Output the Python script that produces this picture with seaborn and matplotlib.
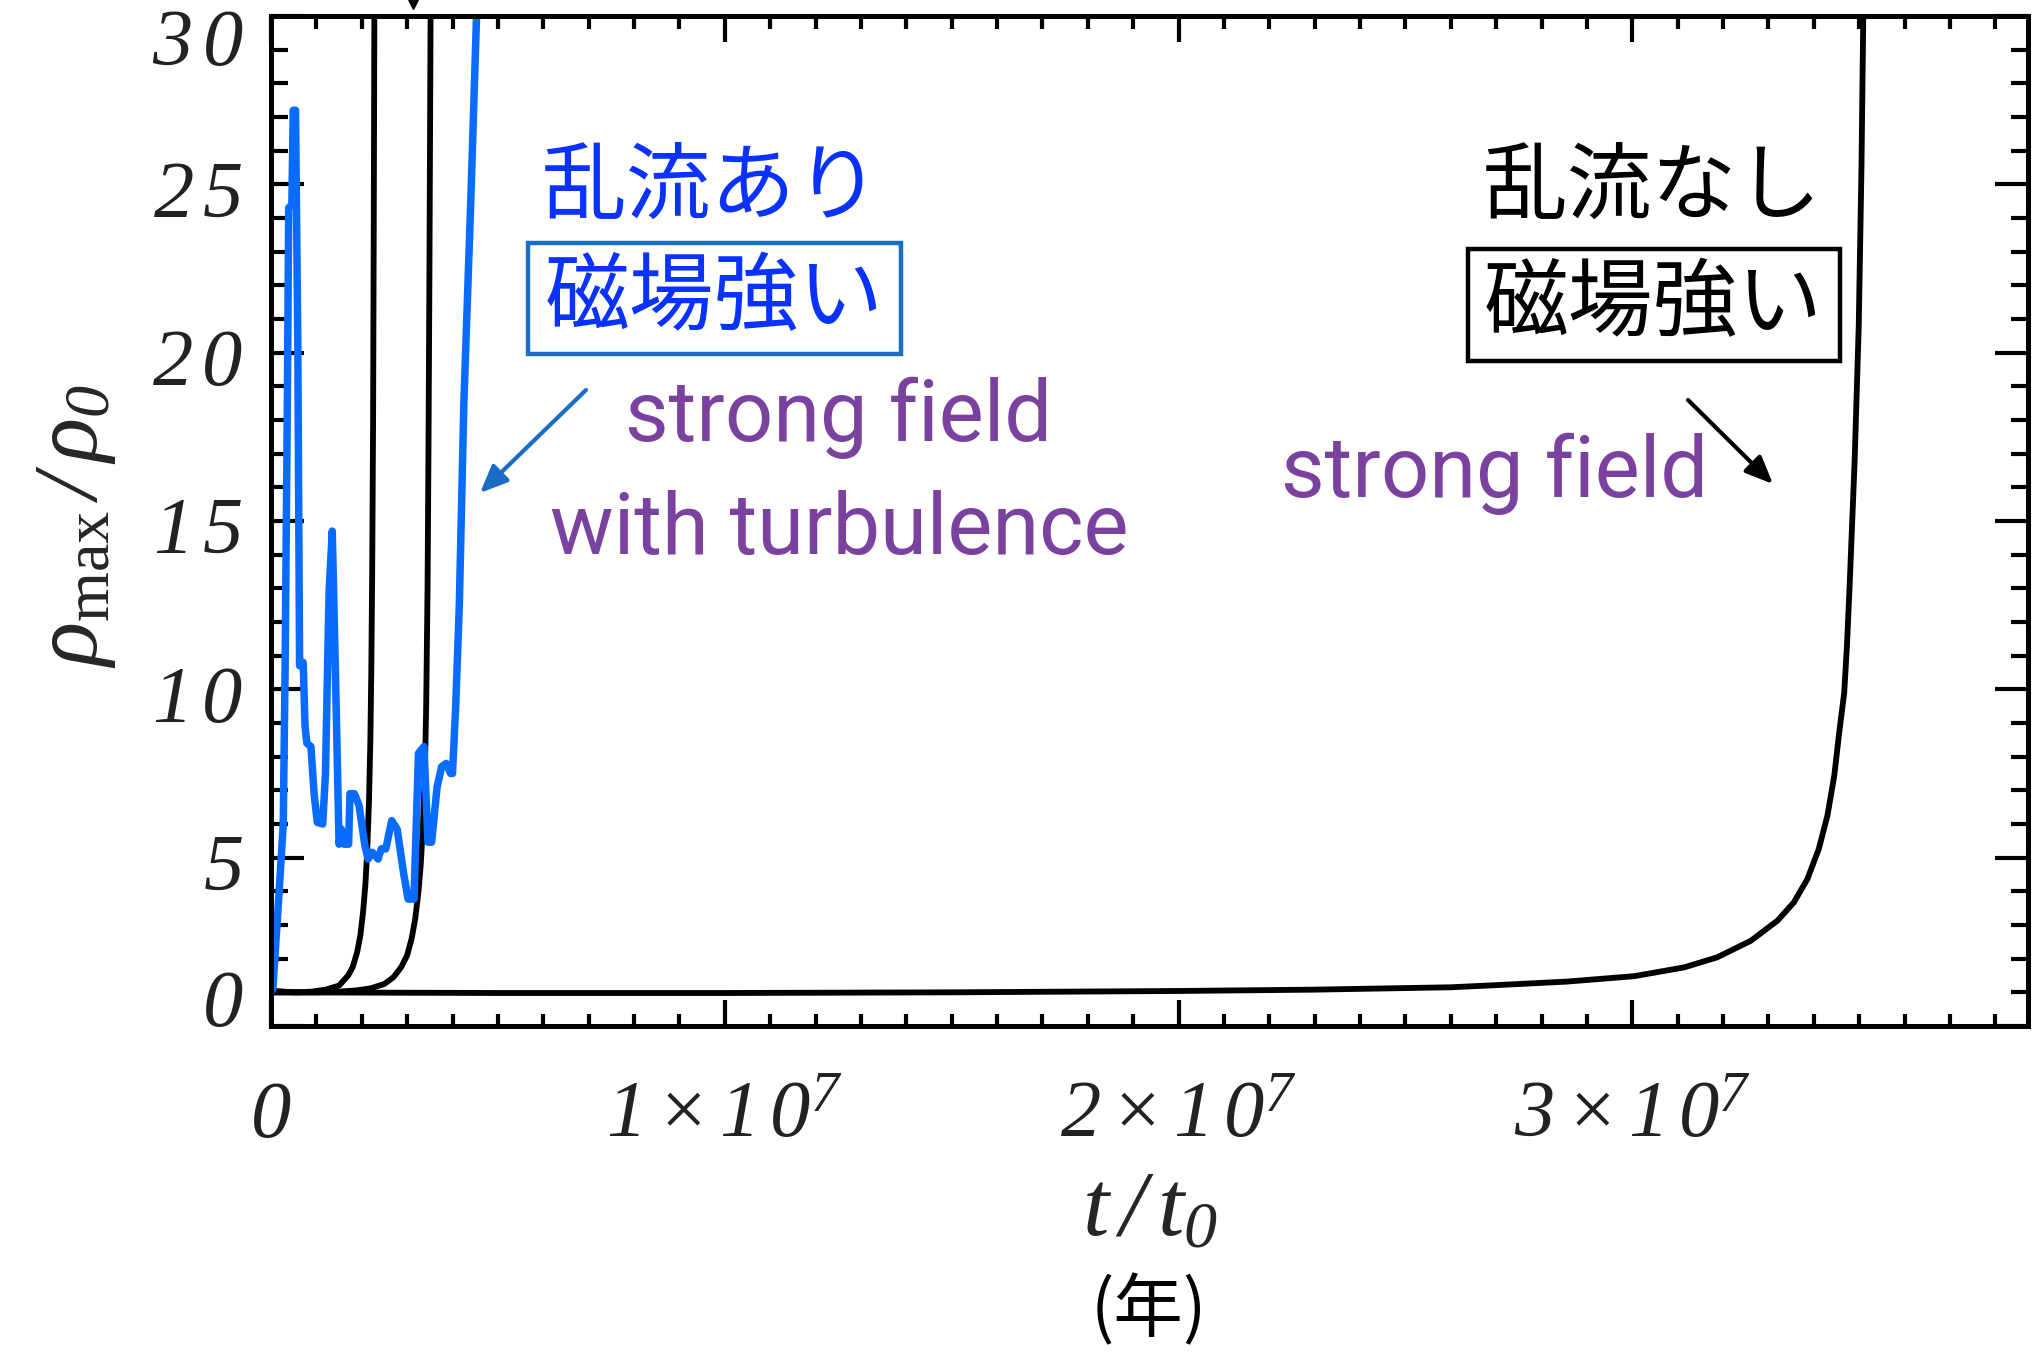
import numpy as np
import pandas as pd
import matplotlib
matplotlib.use("Agg")
import matplotlib.pyplot as plt
from matplotlib.patches import Rectangle
from matplotlib.lines import Line2D
from matplotlib.ticker import MultipleLocator
from matplotlib.transforms import ScaledTranslation
import seaborn as sns

# ---------------- data ----------------
# black curve 1 (no turbulence, fastest collapse); t in units of 1e6
t_black1 = [0.0, 0.05, 0.3, 0.6, 0.9, 1.2, 1.5, 1.7, 1.8, 1.9, 1.97, 2.03, 2.08,
            2.12, 2.16, 2.19, 2.21, 2.23, 2.25, 2.265, 2.28]
r_black1 = [1.1, 1.0, 1.0, 1.0, 1.02, 1.08, 1.2, 1.5, 1.75, 2.2, 2.7, 3.4, 4.2,
            5.2, 6.7, 8.5, 10.5, 13.5, 18.0, 24.0, 31.0]

# black curve 2; t in units of 1e6
t_black2 = [0.0, 0.5, 1.0, 1.5, 1.9, 2.2, 2.5, 2.7, 2.87, 3.0, 3.1, 3.18, 3.25,
            3.3, 3.35, 3.39, 3.42, 3.45, 3.47, 3.49, 3.51, 3.52]
r_black2 = [1.05, 1.0, 1.0, 1.02, 1.06, 1.12, 1.25, 1.45, 1.75, 2.1, 2.6, 3.2, 4.0,
            4.8, 6.0, 7.5, 9.5, 13.0, 17.0, 22.0, 28.0, 31.0]

# black curve 3 (strong field, no turbulence); t in units of 1e7
t_black3 = [0.0, 0.5, 1.0, 1.5, 2.0, 2.3, 2.6, 2.71, 2.857, 3.004, 3.114, 3.187,
            3.261, 3.32, 3.356, 3.386, 3.411, 3.43, 3.445, 3.456, 3.467, 3.473,
            3.479, 3.49, 3.499, 3.505, 3.509, 3.512]
r_black3 = [1.0, 0.98, 0.98, 1.0, 1.04, 1.08, 1.15, 1.22, 1.32, 1.48, 1.74, 2.04,
            2.53, 3.13, 3.67, 4.37, 5.26, 6.25, 7.43, 8.72, 9.9, 11.3,
            13.1, 16.8, 20.8, 25.5, 30.0, 31.0]

# blue curve (strong field with turbulence); t in units of 1e6
t_blue = [0.0, 0.04, 0.17, 0.27, 0.31, 0.36, 0.39, 0.46, 0.49, 0.54, 0.59, 0.63,
          0.71, 0.75, 0.79, 0.88, 0.95, 1.02, 1.14, 1.2, 1.28, 1.35, 1.42, 1.5,
          1.55, 1.61, 1.71, 1.74, 1.84, 1.94, 2.07, 2.14, 2.23, 2.36, 2.43, 2.53,
          2.66, 2.78, 2.92, 3.02, 3.15, 3.25, 3.37, 3.46, 3.54, 3.66, 3.76, 3.86,
          3.96, 4.0, 4.07, 4.15, 4.25, 4.4, 4.53, 4.56]
r_blue = [1.0, 1.1, 3.8, 6.0, 10.5, 18.5, 24.3, 24.4, 27.2, 27.2, 20.4, 10.7,
          10.8, 8.9, 8.4, 8.3, 6.9, 6.05, 6.0, 7.5, 12.9, 14.7, 10.5, 5.4,
          5.85, 5.4, 5.4, 6.9, 6.9, 6.55, 5.35, 4.96, 5.16, 4.96, 5.26, 5.26,
          6.1, 5.85, 4.56, 3.77, 3.77, 8.1, 8.3, 5.46, 5.46, 7.1, 7.7, 7.8,
          7.5, 7.5, 9.5, 12.5, 18.5, 24.4, 30.0, 31.0]

xtick_values = [0, 1e7, 2e7, 3e7]
xtick_labels = [r'$0$', r'$1\,{\times}\,1\,0^{7}$', r'$2\,{\times}\,1\,0^{7}$',
                r'$3\,{\times}\,1\,0^{7}$']
ytick_values = [0, 5, 10, 15, 20, 25, 30]
ytick_labels = [r'$0$', r'$5$', r'$1\,0$', r'$1\,5$', r'$2\,0$', r'$2\,5$', r'$3\,0$']

# ---------------- style ----------------
sns.set_theme(style="ticks")
plt.rcParams['font.family'] = ['Noto Sans CJK JP', 'DejaVu Sans']
plt.rcParams['mathtext.fontset'] = 'custom'
plt.rcParams['mathtext.rm'] = 'Liberation Serif:italic'
plt.rcParams['mathtext.it'] = 'Liberation Serif:italic'
plt.rcParams['mathtext.sf'] = 'Liberation Serif'
plt.rcParams['mathtext.bf'] = 'Liberation Serif:bold'

W, H = 2036, 1352
fig = plt.figure(figsize=(W / 100, H / 100), dpi=100)
fig.patch.set_facecolor('white')
ax = fig.add_axes([271 / W, 1 - 1026 / H, (2028 - 271) / W, (1026 - 16) / H])
ax.set_facecolor('white')

def fx(x):
    return x / W

def fy(y):
    return 1 - y / H

BLUE = '#0a6cff'

df1 = pd.DataFrame({'t': np.array(t_black1) * 1e6, 'r': r_black1})
df2 = pd.DataFrame({'t': np.array(t_black2) * 1e6, 'r': r_black2})
df3 = pd.DataFrame({'t': np.array(t_black3) * 1e7, 'r': r_black3})
dfb = pd.DataFrame({'t': np.array(t_blue) * 1e6, 'r': r_blue})

for d in (df1, df2, df3):
    sns.lineplot(data=d, x='t', y='r', ax=ax, color='black', linewidth=4.2,
                 estimator=None, sort=False, legend=False)
sns.lineplot(data=dfb, x='t', y='r', ax=ax, color=BLUE, linewidth=5.4,
             estimator=None, sort=False, legend=False)

ax.set_xlim(0, 3.872e7)
ax.set_ylim(0, 30)

for s in ax.spines.values():
    s.set_linewidth(3.6)
    s.set_color('black')
    s.set_visible(True)

ax.set_xticks(xtick_values)
ax.set_xticklabels(xtick_labels)
ax.set_yticks(ytick_values)
ax.set_yticklabels(ytick_labels)
ax.xaxis.set_minor_locator(MultipleLocator(1e6))
ax.yaxis.set_minor_locator(MultipleLocator(1))
ax.tick_params(axis='x', which='major', direction='in', length=19, width=3,
               top=True, bottom=True, labelsize=58, pad=80, color='black')
ax.tick_params(axis='x', which='minor', direction='in', length=9, width=3,
               top=True, bottom=True, color='black')
ax.tick_params(axis='y', which='major', direction='in', length=24, width=3,
               left=True, right=True, labelsize=58, pad=20, color='black')
ax.tick_params(axis='y', which='minor', direction='in', length=12, width=3,
               left=True, right=True, color='black')
for lab in ax.get_xticklabels():
    lab.set_color('#222222')
    lab.set_va('baseline')
ylabs = ax.get_yticklabels()
for lab in ylabs:
    lab.set_color('#222222')
# IDL keeps the end labels inside the frame
ylabs[0].set_transform(ylabs[0].get_transform() + ScaledTranslation(0, 0.32, fig.dpi_scale_trans))
ylabs[-1].set_transform(ylabs[-1].get_transform() + ScaledTranslation(0, -0.17, fig.dpi_scale_trans))

ax.set_xlabel(r'$t\,/\,t_{0}$', fontsize=68, va='center', ha='center')
ax.xaxis.set_label_coords(0.5, (1026 - 1208) / 1010)
ax.set_ylabel(r'$\rho_{\mathsf{max}}\,/\,\rho_{0}$', fontsize=66, va='center', ha='center')
ax.yaxis.set_label_coords((71 - 271) / 1757, 0.495)

fig.text(fx(1149), fy(1311), '(年)', fontsize=50, ha='center', va='center', color='black')

# ---------------- annotations ----------------
TEXT_BLUE = '#0a32ff'
BOX_BLUE = '#1a6cc4'
PURPLE = '#7a419e'
CJK = 61
LAT = 61

fig.text(fx(711), fy(188), '乱流あり', fontsize=CJK, color=TEXT_BLUE, ha='center', va='center')
fig.text(fx(714), fy(299), '磁場強い', fontsize=CJK, color=TEXT_BLUE, ha='center', va='center')
fig.add_artist(Rectangle((fx(528), fy(354)), fx(901) - fx(528), fy(243) - fy(354),
                         transform=fig.transFigure, fill=False, ec=BOX_BLUE, lw=3.2))
ax.annotate('', xy=(fx(480), fy(493)), xytext=(fx(586), fy(390)),
            xycoords='figure fraction', textcoords='figure fraction',
            arrowprops=dict(arrowstyle='-|>,head_length=1.4,head_width=0.6',
                            color=BOX_BLUE, lw=3.0, shrinkA=0, shrinkB=0))
fig.text(fx(839), fy(418), 'strong field', fontsize=LAT, color=PURPLE, ha='center',
         va='center', family=['Roboto', 'DejaVu Sans'])
fig.text(fx(839), fy(530), 'with turbulence', fontsize=LAT, color=PURPLE, ha='center',
         va='center', family=['Roboto', 'DejaVu Sans'])

fig.text(fx(1652), fy(188), '乱流なし', fontsize=CJK, color='black', ha='center', va='center')
fig.text(fx(1653), fy(305), '磁場強い', fontsize=CJK, color='black', ha='center', va='center')
fig.add_artist(Rectangle((fx(1468), fy(361)), fx(1840) - fx(1468), fy(249) - fy(361),
                         transform=fig.transFigure, fill=False, ec='black', lw=3.2))
ax.annotate('', xy=(fx(1773), fy(484)), xytext=(fx(1688), fy(400)),
            xycoords='figure fraction', textcoords='figure fraction',
            arrowprops=dict(arrowstyle='-|>,head_length=1.4,head_width=0.6',
                            color='black', lw=3.0, shrinkA=0, shrinkB=0))
fig.text(fx(1495), fy(474), 'strong field', fontsize=LAT, color=PURPLE, ha='center',
         va='center', family=['Roboto', 'DejaVu Sans'])

# small cut-off arrow tip above the frame
fig.add_artist(Line2D([fx(413)], [fy(3)], marker='v', markersize=8, color='black',
                      transform=fig.transFigure))

fig.savefig('out.png', dpi=100, facecolor='white')
